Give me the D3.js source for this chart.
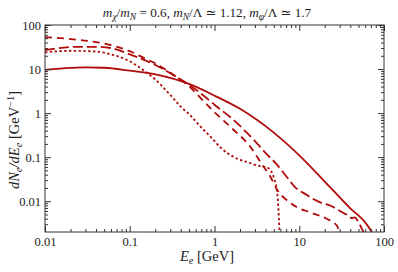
<!DOCTYPE html>
<html>
<head>
<meta charset="utf-8">
<script src="https://cdn.jsdelivr.net/npm/d3@7"></script>
<style>
  body { margin: 0; background: #fff; }
</style>
</head>
<body>
<svg id="chart"></svg>
<script>
// energies in GeV and spectra dN/dE in GeV^-1
const solidE = [0.01, 0.02, 0.03, 0.05, 0.1, 0.2, 0.5, 1, 2, 5, 10, 20, 40, 60, 72];
const solidV = [9.6, 10.6, 10.9, 10.7, 9.2, 7.6, 4.6, 2.5, 1.25, 0.36, 0.11, 0.028, 0.0069, 0.0033, 0.002];

const longE = [0.01, 0.025, 0.04, 0.06, 0.1, 0.2, 0.37, 0.5, 0.675, 1, 1.65, 3, 4.13, 5.2, 7.1, 8.9, 12.2, 14, 17.7, 24.2, 30.2, 38, 42, 45, 48, 53, 58];
const longV = [27, 32, 32, 30, 21.5, 12.4, 6.3, 4.4, 2.9, 1.55, 0.72, 0.232, 0.117, 0.075, 0.036, 0.021, 0.014, 0.0118, 0.0094, 0.0077, 0.006, 0.0047, 0.0041, 0.0043, 0.0038, 0.0027, 0.0019];

const dashE = [0.01, 0.02, 0.04, 0.06, 0.1, 0.15, 0.2, 0.3, 0.37, 0.5, 0.7, 1, 1.65, 2.6, 3.7, 4.5, 5.4, 7.1, 9.3, 13.4, 21, 27.7, 30];
const dashV = [53, 48, 41, 35, 25.5, 17.5, 13.5, 8.3, 6.3, 4.1, 2.1, 1.05, 0.43, 0.18, 0.065, 0.038, 0.019, 0.0106, 0.0074, 0.0056, 0.004, 0.0028, 0.002];

const dotE = [0.01, 0.02, 0.04, 0.06, 0.1, 0.15, 0.2, 0.3, 0.4, 0.5, 0.7, 0.9, 1.2, 1.7, 2.6, 3.5, 4.1, 4.6, 5.1, 5.4, 5.65, 5.85];
const dotV = [24, 26, 25, 21.5, 15, 9, 5.8, 2.6, 1.4, 0.95, 0.47, 0.29, 0.16, 0.1, 0.074, 0.062, 0.059, 0.05, 0.031, 0.02, 0.008, 0.002];

const xTicks = [0.01, 0.1, 1, 10, 100];
const xTickLabels = ["0.01", "0.1", "1", "10", "100"];
const yTicks = [0.01, 0.1, 1, 10, 100];
const yTickLabels = ["0.01", "0.1", "1", "10", "100"];

const W = 398, H = 272;
const margin = {left: 45, right: 14, top: 25, bottom: 40};
const red = "#b00a0a";
const serif = "'Liberation Serif', 'Times New Roman', 'DejaVu Serif', serif";

const svg = d3.select("#chart").attr("width", W).attr("height", H)
  .style("font-family", serif);

const x = d3.scaleLog().domain([0.01, 100]).range([margin.left, W - margin.right]);
const y = d3.scaleLog().domain([0.002, 100]).range([H - margin.bottom, margin.top]);

// minor ticks 2..9 per decade
const minorOf = (lo, hi) => {
  let out = [];
  for (let p = Math.floor(Math.log10(lo)); p < Math.ceil(Math.log10(hi)); p++) {
    for (let m = 2; m <= 9; m++) {
      let v = m * Math.pow(10, p);
      if (v > lo && v < hi) out.push(v);
    }
  }
  return out;
};
const xMinor = minorOf(0.01, 100);
const yMinor = minorOf(0.002, 100);

svg.append("defs").append("clipPath").attr("id", "clip")
  .append("rect")
  .attr("x", margin.left).attr("y", margin.top)
  .attr("width", W - margin.left - margin.right)
  .attr("height", H - margin.top - margin.bottom);

const line = d3.line()
  .x(d => x(d[0]))
  .y(d => y(d[1]))
  .curve(d3.curveMonotoneX);

const series = [
  {E: solidE, V: solidV, dash: null},
  {E: longE, V: longV, dash: "10,4"},
  {E: dashE, V: dashV, dash: "7,5"},
  {E: dotE, V: dotV, dash: "2.4,2.4"}
];

const g = svg.append("g").attr("clip-path", "url(#clip)");
series.forEach(s => {
  g.append("path")
    .datum(d3.zip(s.E, s.V))
    .attr("d", line)
    .attr("fill", "none")
    .attr("stroke", red)
    .attr("stroke-width", 1.8)
    .attr("stroke-dasharray", s.dash);
});

// axes with inward ticks on all sides
const bottom = H - margin.bottom, right = W - margin.right;
function drawAxis(axis, tr) {
  let a = svg.append("g").attr("transform", tr).call(axis);
  a.select(".domain").remove();
  a.attr("font-family", null).style("font-family", serif);
  a.selectAll("line").attr("stroke", "#333");
  a.selectAll("text").attr("font-size", 12.5).attr("fill", "#222").style("font-family", serif);
  return a;
}
drawAxis(d3.axisBottom(x).tickValues(xTicks).tickSize(-6).tickPadding(5)
  .tickFormat((d, i) => xTickLabels[i]), `translate(0,${bottom})`);
drawAxis(d3.axisBottom(x).tickValues(xMinor).tickSize(-3).tickFormat(""), `translate(0,${bottom})`);
drawAxis(d3.axisTop(x).tickValues(xTicks).tickSize(-6).tickFormat(""), `translate(0,${margin.top})`);
drawAxis(d3.axisTop(x).tickValues(xMinor).tickSize(-3).tickFormat(""), `translate(0,${margin.top})`);
drawAxis(d3.axisLeft(y).tickValues(yTicks).tickSize(-6).tickPadding(4)
  .tickFormat((d, i) => yTickLabels[i]), `translate(${margin.left},0)`);
drawAxis(d3.axisLeft(y).tickValues(yMinor).tickSize(-3).tickFormat(""), `translate(${margin.left},0)`);
drawAxis(d3.axisRight(y).tickValues(yTicks).tickSize(-6).tickFormat(""), `translate(${right},0)`);
drawAxis(d3.axisRight(y).tickValues(yMinor).tickSize(-3).tickFormat(""), `translate(${right},0)`);

svg.append("rect")
  .attr("x", margin.left).attr("y", margin.top)
  .attr("width", right - margin.left).attr("height", bottom - margin.top)
  .attr("fill", "none").attr("stroke", "#333").attr("stroke-width", 1);

// helper for math-like labels: parts = [text, italic, subshift, dy]
function mathText(sel, parts) {
  parts.forEach(p => {
    let t = sel.append("tspan").text(p[0]);
    if (p[1]) t.attr("font-style", "italic");
    if (p[2]) t.attr("font-size", "0.72em").attr("dy", p[2]);
    if (p[3]) t.attr("dy", p[3]);
  });
}

const title = svg.append("text").attr("x", 207).attr("y", 17)
  .attr("text-anchor", "middle").attr("font-size", 13.2).attr("fill", "#222");
mathText(title, [
  ["m", 1], ["χ", 1, 3], ["/", 0, 0, -3], ["m", 1], ["N", 1, 3], [" = 0.6,  ", 0, 0, -3],
  ["m", 1], ["N", 1, 3], ["/Λ ≃ 1.12,  ", 0, 0, -3],
  ["m", 1], ["φ", 1, 3], ["/Λ ≃ 1.7", 0, 0, -3]
]);

const xl = svg.append("text").attr("x", 207).attr("y", 261)
  .attr("text-anchor", "middle").attr("font-size", 14.5).attr("fill", "#222");
mathText(xl, [["E", 1], ["e", 1, 3], [" [GeV]", 0, 0, -3]]);

const yl = svg.append("text").attr("transform", "translate(19,140) rotate(-90)")
  .attr("text-anchor", "middle").attr("font-size", 14.5).attr("fill", "#222");
mathText(yl, [
  ["dN", 1], ["e", 1, 3], ["/dE", 1, 0, -3], ["e", 1, 3], [" [GeV", 0, 0, -3],
  ["−1", 0, -5], ["]", 0, 0, 5]
]);
</script>
</body>
</html>
